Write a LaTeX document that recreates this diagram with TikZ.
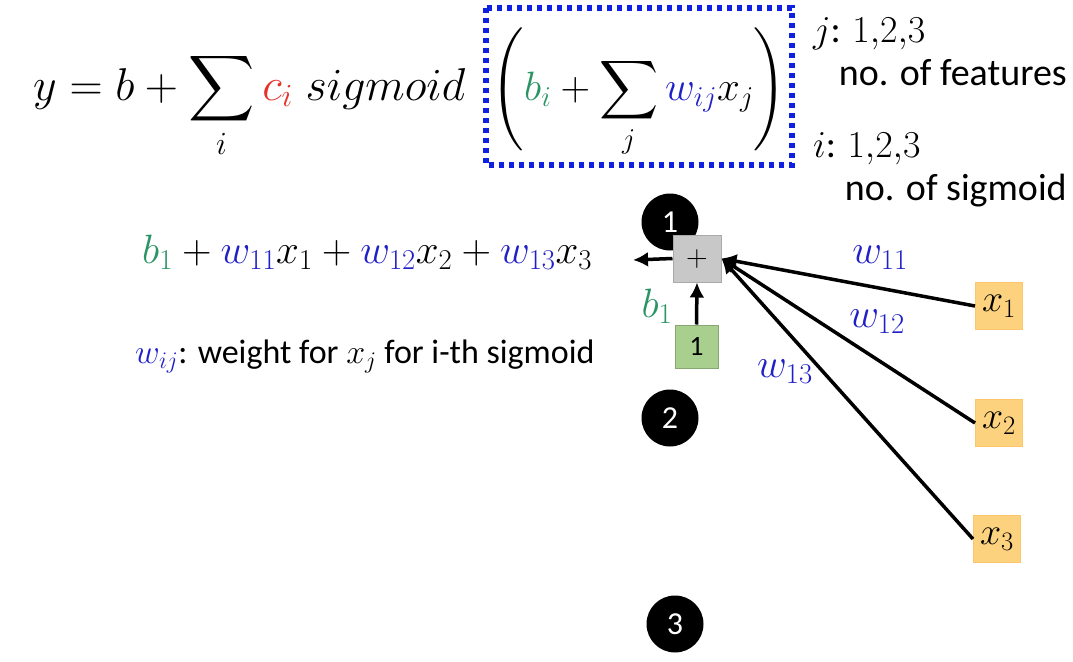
\RequirePackage{fix-cm}
\documentclass[tikz,border=0pt]{standalone}
\usepackage{amsmath}
\DeclareFontShape{OMX}{cmex}{m}{n}{<->cmex10}{}
\usepackage[no-math]{fontspec}
\setmainfont{Carlito}
\usetikzlibrary{arrows.meta}
\definecolor{wblue}{HTML}{2020C8}
\definecolor{bgreen}{HTML}{2A9464}
\definecolor{cred}{HTML}{E5322A}
\definecolor{boxblue}{HTML}{1020E0}
\definecolor{featfill}{HTML}{FCD27E}
\definecolor{onefill}{HTML}{A9CF8E}
\definecolor{plusfill}{HTML}{C8C8C8}
\tikzset{
  numdot/.style={circle, fill=black, text=white, minimum size=57pt, inner sep=0pt, font=\fontsize{32}{38}\selectfont},
  featbox/.style={draw=featfill!85!orange, line width=1pt, fill=featfill, minimum size=47pt, inner sep=0pt, font=\fontsize{38}{44}\selectfont},
  arr/.style={line width=3.5pt, -{Latex[length=15pt,width=15pt]}},
  dotbox/.style={draw=boxblue, line width=5.5pt, dash pattern=on 5pt off 5pt, inner sep=0pt},
  big/.style={font=\fontsize{46}{54}\selectfont},
  mid/.style={font=\fontsize{41}{48}\selectfont},
  txt/.style={font=\fontsize{38}{46}\selectfont}
}
\begin{document}
\begin{tikzpicture}[x=1pt, y=-1pt]
    \useasboundingbox (0,0) rectangle (1073,661);

    % Formula
    \node[big, anchor=base west, inner sep=0pt] (yeq) at (33,100)
        {$\displaystyle y = b + \sum_i \textcolor{cred}{c_i}\; sigmoid$};
    \draw[dotbox] (486,8) rectangle (792,165);
    \node[font=\fontsize{41}{48}\selectfont, anchor=base, inner sep=0pt] (inner) at (639,100)
        {$\delimitershortfall=30pt\delimiterfactor=850\displaystyle \left( \textcolor{bgreen}{b_i} + \sum_j \textcolor{wblue}{w_{ij}} x_j \right)$};
    \node[txt, anchor=base west, inner sep=0pt] (jrange) at (813,43) {$j$: $1{,}2{,}3$};
    \node[txt, anchor=base east, inner sep=0pt] (jnote) at (1067,85) {no. of features};
    \node[txt, anchor=base west, inner sep=0pt] (irange) at (813,157) {$i$: $1{,}2{,}3$};
    \node[txt, anchor=base east, inner sep=0pt] (inote) at (1067,200) {no. of sigmoid};

    % Sigmoid 1
    \node[mid, anchor=base west, inner sep=0pt] (sum1) at (142,263)
        {$\textcolor{bgreen}{b_1} + \textcolor{wblue}{w_{11}}x_1 + \textcolor{wblue}{w_{12}}x_2 + \textcolor{wblue}{w_{13}}x_3$};
    \node[font=\fontsize{34}{40}\selectfont, anchor=base west, inner sep=0pt] (wnote) at (135,363)
        {$\textcolor{wblue}{w_{ij}}$: weight for $x_j$ for i-th sigmoid};

    \node[numdot] (n1) at (670,222) {1};
    \node[numdot] (n2) at (670,418) {2};
    \node[numdot] (n3) at (675,624) {3};

    \node[draw=plusfill!85!black, line width=1pt, fill=plusfill, minimum width=48pt, minimum height=47pt, inner sep=0pt,
          font=\fontsize{30}{36}\selectfont] (plus) at (697,258.5) {$+$};
    \node[draw=onefill!80!black, line width=1pt, fill=onefill, minimum size=43pt, inner sep=0pt,
          font=\fontsize{28}{34}\selectfont] (one) at (696.5,346.5) {1};

    \node[featbox] (x1) at (999,306) {$x_1$};
    \node[featbox] (x2) at (999,423) {$x_2$};
    \node[featbox] (x3) at (997,539) {$x_3$};

    \draw[arr] (plus.west) -- (633,260) coordinate (out1);
    \draw[arr] (one.north) -- (plus.south);
    \node[mid, text=bgreen, inner sep=0pt] (b1) at (657,306) {$b_1$};

    \draw[arr] (x1.west) -- (plus.east);
    \draw[arr] (x2.west) -- (plus.east);
    \draw[arr] (x3.west) -- (plus.east);

    \node[mid, text=wblue, inner sep=0pt] (w11) at (880,258) {$w_{11}$};
    \node[mid, text=wblue, inner sep=0pt] (w12) at (877,322) {$w_{12}$};
    \node[mid, text=wblue, inner sep=0pt] (w13) at (785,372) {$w_{13}$};
\end{tikzpicture}
\end{document}
